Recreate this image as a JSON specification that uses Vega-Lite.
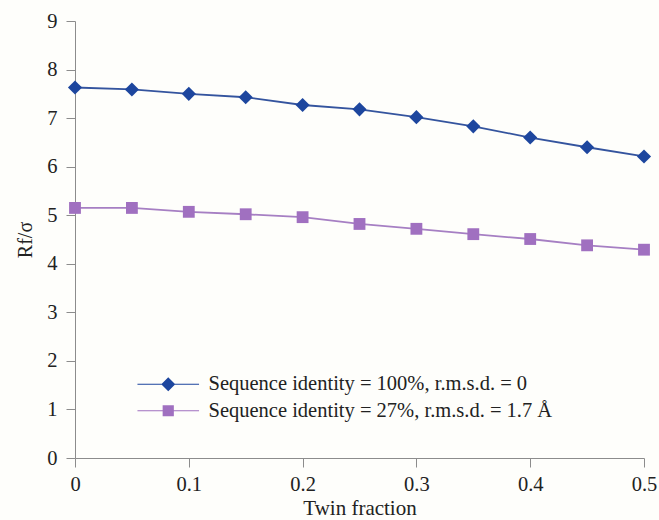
{
  "$schema": "https://vega.github.io/schema/vega-lite/v6.json",
  "width": 569,
  "height": 437,
  "autosize": {"type": "none"},
  "padding": {"left": 75, "top": 21, "right": 15, "bottom": 62},
  "background": "#fefefb",
  "config": {
    "view": {"stroke": null},
    "font": "Liberation Serif",
    "axis": {
      "grid": false,
      "domainColor": "#8c8c8c",
      "tickColor": "#8c8c8c",
      "tickSize": 9,
      "labelFont": "Liberation Serif",
      "labelFontSize": 20.5,
      "labelColor": "#222222",
      "labelPadding": 7,
      "titleFont": "Liberation Serif",
      "titleFontSize": 21,
      "titleFontWeight": "normal",
      "titleColor": "#222222"
    }
  },
  "data": {
    "values": [
      {"twin": 0.0, "rf": 7.63, "series": "Sequence identity = 100%, r.m.s.d. = 0"},
      {"twin": 0.05, "rf": 7.59, "series": "Sequence identity = 100%, r.m.s.d. = 0"},
      {"twin": 0.1, "rf": 7.5, "series": "Sequence identity = 100%, r.m.s.d. = 0"},
      {"twin": 0.15, "rf": 7.43, "series": "Sequence identity = 100%, r.m.s.d. = 0"},
      {"twin": 0.2, "rf": 7.27, "series": "Sequence identity = 100%, r.m.s.d. = 0"},
      {"twin": 0.25, "rf": 7.18, "series": "Sequence identity = 100%, r.m.s.d. = 0"},
      {"twin": 0.3, "rf": 7.02, "series": "Sequence identity = 100%, r.m.s.d. = 0"},
      {"twin": 0.35, "rf": 6.83, "series": "Sequence identity = 100%, r.m.s.d. = 0"},
      {"twin": 0.4, "rf": 6.6, "series": "Sequence identity = 100%, r.m.s.d. = 0"},
      {"twin": 0.45, "rf": 6.4, "series": "Sequence identity = 100%, r.m.s.d. = 0"},
      {"twin": 0.5, "rf": 6.21, "series": "Sequence identity = 100%, r.m.s.d. = 0"},
      {"twin": 0.0, "rf": 5.15, "series": "Sequence identity = 27%, r.m.s.d. = 1.7 Å"},
      {"twin": 0.05, "rf": 5.15, "series": "Sequence identity = 27%, r.m.s.d. = 1.7 Å"},
      {"twin": 0.1, "rf": 5.07, "series": "Sequence identity = 27%, r.m.s.d. = 1.7 Å"},
      {"twin": 0.15, "rf": 5.02, "series": "Sequence identity = 27%, r.m.s.d. = 1.7 Å"},
      {"twin": 0.2, "rf": 4.96, "series": "Sequence identity = 27%, r.m.s.d. = 1.7 Å"},
      {"twin": 0.25, "rf": 4.82, "series": "Sequence identity = 27%, r.m.s.d. = 1.7 Å"},
      {"twin": 0.3, "rf": 4.72, "series": "Sequence identity = 27%, r.m.s.d. = 1.7 Å"},
      {"twin": 0.35, "rf": 4.61, "series": "Sequence identity = 27%, r.m.s.d. = 1.7 Å"},
      {"twin": 0.4, "rf": 4.51, "series": "Sequence identity = 27%, r.m.s.d. = 1.7 Å"},
      {"twin": 0.45, "rf": 4.38, "series": "Sequence identity = 27%, r.m.s.d. = 1.7 Å"},
      {"twin": 0.5, "rf": 4.29, "series": "Sequence identity = 27%, r.m.s.d. = 1.7 Å"}
    ]
  },
  "encoding": {
    "x": {
      "field": "twin",
      "type": "quantitative",
      "title": "Twin fraction",
      "scale": {"domain": [0, 0.5], "nice": false},
      "axis": {"values": [0, 0.1, 0.2, 0.3, 0.4, 0.5], "labelExpr": "datum.value == 0 ? '0' : format(datum.value, '.1f')", "titlePadding": 3, "labelFlush": false, "labelPadding": 7}
    },
    "y": {
      "field": "rf",
      "type": "quantitative",
      "title": "Rf/σ",
      "scale": {"domain": [0, 9], "nice": false},
      "axis": {"values": [0, 1, 2, 3, 4, 5, 6, 7, 8, 9], "titlePadding": 11, "labelPadding": 9, "titleFontSize": 20}
    }
  },
  "layer": [
    {
      "mark": {"type": "line", "strokeWidth": 1.8},
      "encoding": {
        "color": {
          "field": "series",
          "type": "nominal",
          "scale": {"domain": ["Sequence identity = 100%, r.m.s.d. = 0", "Sequence identity = 27%, r.m.s.d. = 1.7 Å"], "range": ["#34549e", "#a67fc3"]},
          "legend": null
        }
      }
    },
    {
      "mark": {"type": "point", "filled": true, "opacity": 1},
      "encoding": {
        "color": {
          "field": "series",
          "type": "nominal",
          "scale": {"domain": ["Sequence identity = 100%, r.m.s.d. = 0", "Sequence identity = 27%, r.m.s.d. = 1.7 Å"], "range": ["#1d469e", "#a070c0"]},
          "legend": null
        },
        "shape": {
          "field": "series",
          "type": "nominal",
          "scale": {"domain": ["Sequence identity = 100%, r.m.s.d. = 0", "Sequence identity = 27%, r.m.s.d. = 1.7 Å"], "range": ["diamond", "square"]},
          "legend": null
        },
        "size": {
          "field": "series",
          "type": "nominal",
          "scale": {"domain": ["Sequence identity = 100%, r.m.s.d. = 0", "Sequence identity = 27%, r.m.s.d. = 1.7 Å"], "range": [200, 140]},
          "legend": null
        }
      }
    },
    {
      "mark": {"type": "point", "filled": true, "opacity": 0, "size": 196},
      "encoding": {
        "color": {
          "field": "series",
          "type": "nominal",
          "scale": {"domain": ["Sequence identity = 100%, r.m.s.d. = 0", "Sequence identity = 27%, r.m.s.d. = 1.7 Å"], "range": ["#1d469e", "#a070c0"]},
          "legend": {"title": null, "orient": "none", "legendX": 83, "legendY": 353, "padding": 0, "labelFont": "Liberation Serif", "labelFontSize": 20.5, "labelColor": "#222222", "labelOffset": 30, "labelLimit": 0, "rowPadding": 5.5, "symbolOpacity": 1, "symbolSize": 196}
        },
        "shape": {
          "field": "series",
          "type": "nominal",
          "scale": {"domain": ["Sequence identity = 100%, r.m.s.d. = 0", "Sequence identity = 27%, r.m.s.d. = 1.7 Å"], "range": ["M-4.4,-0.07H4.4V0.07H-4.4Z M0,-1L1,0L0,1L-1,0Z", "M-4.4,-0.07H4.4V0.07H-4.4Z M-0.8,-0.8H0.8V0.8H-0.8Z"]},
          "legend": {"title": null, "orient": "none", "legendX": 83, "legendY": 353, "padding": 0, "labelFont": "Liberation Serif", "labelFontSize": 20.5, "labelColor": "#222222", "labelOffset": 30, "labelLimit": 0, "rowPadding": 5.5, "symbolOpacity": 1, "symbolSize": 196}
        }
      }
    }
  ],
  "resolve": {"scale": {"color": "independent", "shape": "independent"}}
}
